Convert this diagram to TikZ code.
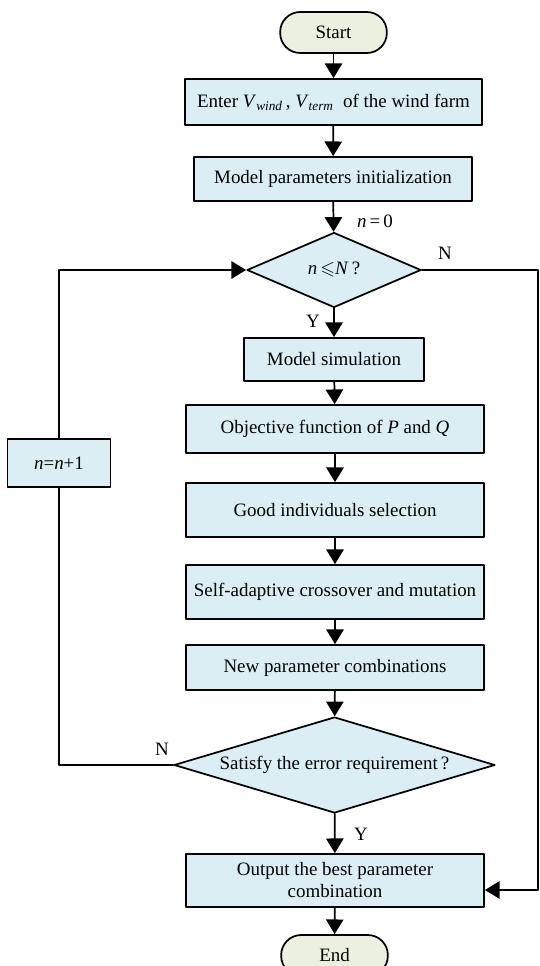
\documentclass[tikz,border=0pt]{standalone}
\usepackage{amssymb}
\usepackage{fontspec}
\setmainfont{Liberation Serif}
\usetikzlibrary{arrows.meta, shapes.geometric, calc}

\definecolor{boxblue}{RGB}{218,238,243}
\definecolor{termgreen}{RGB}{235,241,222}

\begin{document}
\begin{tikzpicture}[line cap=round,line join=round,x=0.75pt,y=-0.75pt,
    every node/.style={font=\fontsize{14.2pt}{16.5pt}\selectfont},
    procbox/.style={rectangle, draw=black, fill=boxblue, line width=1.3pt, inner sep=0pt, minimum width=223.5pt},
    termbox/.style={rectangle, rounded corners=15pt, draw=black, fill=termgreen, line width=1.3pt, minimum width=80pt, minimum height=30.75pt},
    choicebox/.style={diamond, draw=black, fill=boxblue, line width=1.3pt, inner sep=0pt},
    flow/.style={line width=1.3pt, -{Triangle[length=11pt,width=13pt]}},
    plainflow/.style={line width=1.3pt}]
    \useasboundingbox (0,0) rectangle (539,966);

    % terminals
    \draw (333.5,32.5) node[termbox] (start) {Start};
    \draw (334.5,955.5) node[termbox] (end) {End};

    % process boxes
    \draw (333.5,102) node[procbox, minimum width=222.75pt, minimum height=34.5pt] (enter) {Enter \textit{V}\textsubscript{\textit{wind}}\,, \textit{V}\textsubscript{\textit{term}}\ \ of the wind farm};
    \draw (333,179) node[procbox, minimum width=208.5pt, minimum height=33pt] (init) {Model parameters initialization};
    \draw (334,359.5) node[procbox, minimum width=135pt, minimum height=32.25pt] (sim) {Model simulation};
    \draw (335,429) node[procbox, minimum height=36pt] (obj) {Objective function of \textit{P} and \textit{Q}};
    \draw (335,510) node[procbox, minimum height=40.5pt] (good) {Good individuals selection};
    \draw (335,592) node[procbox, minimum height=40.5pt] (cross) {Self-adaptive crossover and mutation};
    \draw (335,667.5) node[procbox, minimum height=33.75pt] (newpar) {New parameter combinations};
    \draw (335,880.5) node[procbox, minimum height=39.75pt, align=center] (out) {Output the best parameter\\combination};
    \draw (59,463) node[procbox, minimum width=77.25pt, minimum height=36pt] (inc) {\textit{n}=\textit{n}+1};

    % decisions
    \draw (334,270) node[choicebox, aspect=2.32, minimum width=130.5pt, minimum height=56.25pt] (check) {\textit{n}\,$\leqslant$\textit{N}\,?};
    \draw (334.5,765) node[choicebox, aspect=3.34, minimum width=240.75pt, minimum height=72pt] (error) {Satisfy the error requirement\,?};

    % labels
    \draw (375,221) node (nzero) {\textit{n}\,=\,0};
    \draw (445,253) node (noA) {N};
    \draw (313,321) node (yesA) {Y};
    \draw (162,749) node (noB) {N};
    \draw (361,834) node (yesB) {Y};

    % main flow
    \foreach \source/\target in {start/enter, enter/init, init/check, check/sim, sim/obj, obj/good, good/cross, cross/newpar, newpar/error, error/out, out/end} {
            \draw[flow] (\source) -- (\target);
        }

    % loops
    \coordinate (rtop) at (538,270);
    \coordinate (rbot) at (538,890);
    \draw[flow] (check.east) -- (rtop) -- (rbot) -- (out.east |- rbot);
    \draw[plainflow] (error.west) -| (inc.south);
    \draw[flow] (inc.north) |- (check.west);

\end{tikzpicture}
\end{document}
